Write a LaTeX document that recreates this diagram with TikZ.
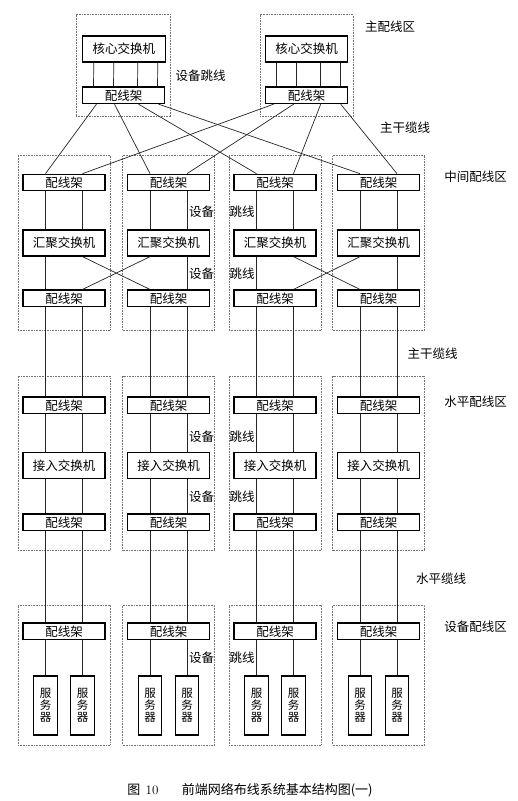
\documentclass[tikz,border=0pt]{standalone}
\usepackage{fontspec}
\newfontfamily\cjk{Noto Sans CJK SC}
\usepackage{tikz}
\usetikzlibrary{positioning}

\begin{document}
\begin{tikzpicture}[
        x=1pt, y=-1pt,
        font=\cjk\fontsize{12.5}{13}\selectfont,
        zone/.style={rectangle, draw=black!55, densely dotted, line width=0.6pt, inner sep=0pt},
        switchbox/.style={rectangle, draw, line width=1.3pt, minimum width=82pt, minimum height=26pt, inner sep=0pt},
        panelbox/.style={rectangle, draw, line width=1.3pt, minimum width=82pt, minimum height=16.4pt, inner sep=0pt},
        serverbox/.style={rectangle, draw, line width=1.3pt, minimum width=23.5pt, minimum height=59pt, inner sep=0pt, align=center, font=\cjk\fontsize{11.5}{11.7}\selectfont},
        cable/.style={line width=0.7pt, black!85},
        zonetext/.style={inner sep=0pt}
    ]
        \useasboundingbox (0,0) rectangle (518,801);

        % Main distribution zone
        \node[zone, minimum width=94.7pt, minimum height=102pt] (mainzoneL) at (123.3,65.7) {};
        \node[zone, minimum width=93pt, minimum height=102pt] (mainzoneR) at (306.5,65.7) {};
        \node[switchbox, minimum width=83pt] (coreL) at (123.8,49) {核心交换机};
        \node[switchbox] (coreR) at (306.7,49) {核心交换机};
        \node[panelbox] (corepL) at (123.5,95.3) {配线架};
        \node[panelbox] (corepR) at (306.7,95.3) {配线架};
        \foreach \dx in {-30,-10,14,34} {
            \draw[cable] ([xshift=\dx pt]coreL.south) -- ([xshift=\dx pt]corepL.north);
            \draw[cable] ([xshift=\dx pt]coreR.south) -- ([xshift=\dx pt]corepR.north);
        }

        % Columns: intermediate, horizontal and equipment zones
        \foreach \c/\cx in {1/64, 2/168.5, 3/275, 4/378.5} {
            \node[zone, minimum width=92pt, minimum height=175pt] (midzone\c) at (\cx,242.5) {};
            \node[panelbox] (midtop\c) at (\cx,182.5) {配线架};
            \node[switchbox] (agg\c) at (\cx,243) {汇聚交换机};
            \node[panelbox] (midbot\c) at (\cx,298.3) {配线架};

            \node[zone, minimum width=92pt, minimum height=174.7pt] (horzone\c) at (\cx,463.3) {};
            \node[panelbox] (hortop\c) at (\cx,405.3) {配线架};
            \node[switchbox] (acc\c) at (\cx,465.3) {接入交换机};
            \node[panelbox] (horbot\c) at (\cx,522.3) {配线架};

            \node[zone, minimum width=92pt, minimum height=140pt] (eqzone\c) at (\cx,675) {};
            \node[panelbox] (eqp\c) at (\cx,631.3) {配线架};
            \node[serverbox] (srvA\c) at (\cx-18.5,705.5) {服\\务\\器};
            \node[serverbox] (srvB\c) at (\cx+18.5,705.5) {服\\务\\器};

            \foreach \dx in {-18.5,18.5} {
                \draw[cable] ([xshift=\dx pt]midtop\c.south) -- ([xshift=\dx pt]agg\c.north);
                \draw[cable] ([xshift=\dx pt]midbot\c.south) -- ([xshift=\dx pt]hortop\c.north);
                \draw[cable] ([xshift=\dx pt]hortop\c.south) -- ([xshift=\dx pt]acc\c.north);
                \draw[cable] ([xshift=\dx pt]acc\c.south) -- ([xshift=\dx pt]horbot\c.north);
                \draw[cable] ([xshift=\dx pt]horbot\c.south) -- ([xshift=\dx pt]eqp\c.north);
            }
            \draw[cable] ([xshift=-18.5pt]eqp\c.south) -- (srvA\c);
            \draw[cable] ([xshift=18.5pt]eqp\c.south) -- (srvB\c);
        }

        % Backbone cables from the core panels
        \foreach \c/\dl/\dr in {1/-27/-33, 2/-9/-13, 3/15/14, 4/35/34} {
            \draw[cable] ([xshift=\dl pt]corepL.south) -- ([xshift=-18.5pt]midtop\c.north);
            \draw[cable] ([xshift=\dr pt]corepR.south) -- ([xshift=18.5pt]midtop\c.north);
        }

        % Aggregation switch to panel, straight and crossed
        \draw[cable] ([xshift=-18.5pt]agg1.south) -- ([xshift=-18.5pt]midbot1.north);
        \draw[cable] ([xshift=18.5pt]agg1.south) -- ([xshift=-18.5pt]midbot2.north);
        \draw[cable] ([xshift=-18.5pt]agg2.south) -- ([xshift=18.5pt]midbot1.north);
        \draw[cable] ([xshift=18.5pt]agg2.south) -- ([xshift=18.5pt]midbot2.north);
        \draw[cable] ([xshift=-18.5pt]agg3.south) -- ([xshift=-18.5pt]midbot3.north);
        \draw[cable] ([xshift=18.5pt]agg3.south) -- ([xshift=-18.5pt]midbot4.north);
        \draw[cable] ([xshift=-18.5pt]agg4.south) -- ([xshift=18.5pt]midbot3.north);
        \draw[cable] ([xshift=18.5pt]agg4.south) -- ([xshift=18.5pt]midbot4.north);

        % Labels
        \node[zonetext] (lblmain) at (390,26.7) {主配线区};
        \node[zonetext] (lbljump) at (200.5,76) {设备跳线};
        \node[zonetext] (lblback1) at (405,127.7) {主干缆线};
        \node[zonetext] (lblmid) at (475.5,176.7) {中间配线区};
        \node[zonetext] (lblback2) at (432.5,353.3) {主干缆线};
        \node[zonetext] (lblhor) at (475.5,401.7) {水平配线区};
        \node[zonetext] (lblhcab) at (441,578.3) {水平缆线};
        \node[zonetext] (lbleq) at (475.5,626.7) {设备配线区};
        \foreach \y [count=\k] in {211.7, 273.3, 436.7, 496.7, 657.3} {
            \node[zonetext] (dev\k) at (201.5,\y) {设备};
            \node[zonetext] (jmp\k) at (242,\y) {跳线};
        }

        % Caption
        \node[zonetext, font=\cjk\fontsize{13}{14}\selectfont] (caption) at (250,790) {图\hspace{0.4em}{\normalfont 10}\hspace{1.8em}前端网络布线系统基本结构图(一)};

    \end{tikzpicture}
\end{document}
